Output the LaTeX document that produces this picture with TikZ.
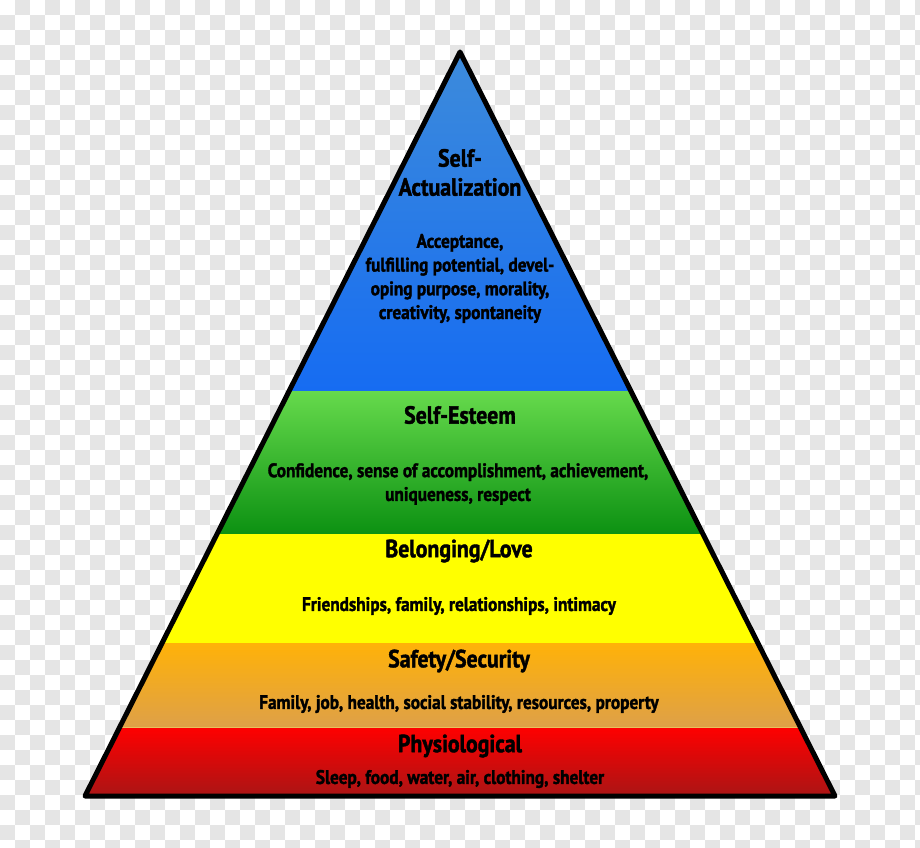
\documentclass[tikz,border=0pt]{standalone}
\usepackage{fontspec}
\setmainfont[FakeStretch=0.88,FakeBold=1.6]{PT Sans}
\definecolor{chk}{RGB}{229,229,229}
\definecolor{blueT}{RGB}{62,140,218}
\definecolor{blueB}{RGB}{22,108,242}
\definecolor{greenT}{RGB}{102,218,76}
\definecolor{greenB}{RGB}{12,145,18}
\definecolor{yel}{RGB}{255,255,0}
\definecolor{orangeT}{RGB}{255,178,8}
\definecolor{orangeB}{RGB}{222,160,72}
\definecolor{redT}{RGB}{255,0,0}
\definecolor{redB}{RGB}{165,22,22}
\definecolor{seam}{RGB}{232,192,92}
\tikzset{
  head/.style={font=\fontsize{18.6}{21.75}\selectfont\bfseries, align=center, inner sep=0pt, text=black},
  body/.style={font=\fontsize{14.7}{17.8}\selectfont\bfseries, align=center, inner sep=0pt, text=black},
  outline/.style={line width=3.75pt, line join=round, draw=black},
}
\begin{document}
\begin{tikzpicture}[x=0.75pt,y=-0.75pt]
\useasboundingbox (0,0) rectangle (920,848);
\fill[white] (0,0) rectangle (920,848);
\foreach \j in {0,2,...,56}{\foreach \i in {1,3,...,61}{\fill[chk] (\i*15,\j*15) rectangle ++(15,15);}}
\foreach \j in {1,3,...,55}{\foreach \i in {0,2,...,60}{\fill[chk] (\i*15,\j*15) rectangle ++(15,15);}}

\coordinate (apex) at (460,52);
\coordinate (bl) at (85,796);
\coordinate (br) at (835,796);

\begin{scope}
\clip (apex) -- (bl) -- (br) -- cycle;
\shade[top color=blueT, bottom color=blueB] (60,40) rectangle (860,391);
\shade[top color=greenT, bottom color=greenB] (60,391) rectangle (860,534);
\fill[yel] (60,534) rectangle (860,643);
\shade[top color=orangeT, bottom color=orangeB] (60,643) rectangle (860,727);
\shade[top color=redT, bottom color=redB] (60,727) rectangle (860,800);
\draw[seam, line width=0.75pt] (60,727) -- (860,727);
\end{scope}
\draw[outline] (apex) -- (bl) -- (br) -- cycle;

\node[head] (h1) at (460,172.5) {Self-\\Actualization};
\node[body] (b1) at (460,278.5) {Acceptance,\\fulfilling potential, devel-\\oping purpose, morality,\\creativity, spontaneity};
\node[head] (h2) at (460,415) {Self-Esteem};
\node[body] (b2) at (458,484) {Confidence, sense of accomplishment, achievement,\\uniqueness, respect};
\node[head] (h3) at (459,551) {Belonging/Love};
\node[body] (b3) at (459,606) {Friendships, family, relationships, intimacy};
\node[head] (h4) at (459,661) {Safety/Security};
\node[body] (b4) at (459,704) {Family, job, health, social stability, resources, property};
\node[head] (h5) at (460,746) {Physiological};
\node[body] (b5) at (460,779) {Sleep, food, water, air, clothing, shelter};
\end{tikzpicture}
\end{document}
